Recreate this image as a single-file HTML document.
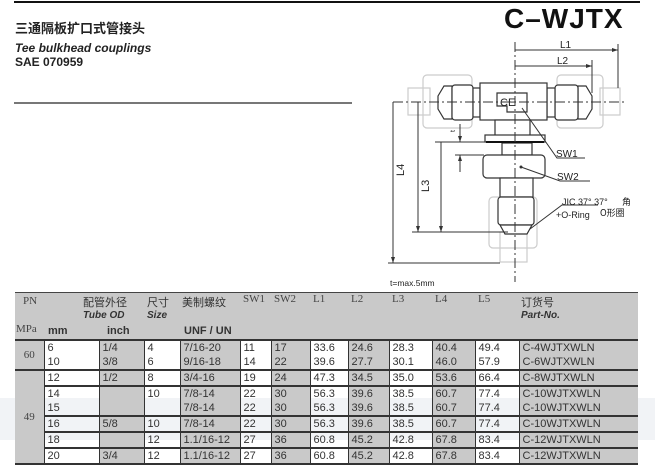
<!DOCTYPE html>
<html><head><meta charset="utf-8">
<style>
body{margin:0;width:655px;height:473px;background:#fff;position:relative;overflow:hidden;font-family:"Liberation Sans","Noto Sans CJK SC",sans-serif;color:#222}
.a{position:absolute;white-space:nowrap}
.hd .a{z-index:5}
table{position:absolute;left:15px;top:293px;width:623px;border-collapse:collapse;table-layout:fixed;font-size:11px}
td{padding:0 0 0 3px;white-space:nowrap;color:#333}
.g{background:#c9c9c9}
.hd td{background:#c9c9c9;border:none;vertical-align:top;overflow:visible}
.d td{border-left:1.5px solid #333;height:14px;line-height:14px;overflow:hidden;padding-top:0;padding-bottom:0}
.t td{border-top:2px solid #333}
.s{font-family:"Liberation Serif","Noto Serif CJK SC",serif;font-size:11px;color:#444}
.b{font-weight:bold;font-size:11px}
.i{font-weight:bold;font-style:italic;font-size:10px}
</style></head><body>
<div class="a" style="left:14px;top:1px;width:626px;height:2px;background:#111"></div>
<div class="a" style="left:15px;top:18px;font-size:13px;font-weight:bold">三通隔板扩口式管接头</div>
<div class="a" style="left:15px;top:41px;font-size:12px;font-weight:bold;font-style:italic">Tee bulkhead couplings</div>
<div class="a" style="left:15px;top:55px;font-size:12px;font-weight:bold">SAE 070959</div>
<div class="a" style="left:14px;top:102px;width:338px;height:2px;background:#777"></div>
<div class="a" style="left:504px;top:3px;font-size:28px;font-weight:bold;letter-spacing:1px;color:#111">C–WJTX</div>

<svg class="a" style="left:0;top:0" width="655" height="292" viewBox="0 0 655 292">
<g fill="none" stroke="#ccc" stroke-width="1.2">
<rect x="423" y="75" width="49" height="53" rx="4"/><rect x="408" y="88" width="22" height="27"/>
<rect x="557" y="75" width="46" height="53" rx="4"/><rect x="600" y="88" width="20" height="27"/>
<rect x="489" y="197" width="48" height="51" rx="4"/><rect x="500" y="232" width="27" height="30"/>
</g>
<g fill="#fff" stroke="#333" stroke-width="1.2">
<path d="M438 96 L444 86 L452 86 L452 119 L444 119 L438 109 Z"/>
<rect x="452" y="85" width="21" height="35" rx="3"/><rect x="473" y="88" width="7" height="29"/>
<path d="M592 96 L586 86 L578 86 L578 119 L586 119 L592 109 Z"/>
<rect x="555" y="85" width="23" height="35" rx="3"/><rect x="547" y="88" width="8" height="29"/>
<rect x="480" y="83" width="67" height="37"/>
<rect x="495" y="120" width="35" height="16"/>
<rect x="485" y="135" width="60" height="7"/>
<rect x="502" y="143" width="30" height="12"/>
<rect x="483" y="155" width="62" height="23" rx="4"/>
<rect x="500" y="178" width="33" height="19"/>
<rect x="498" y="197" width="36" height="28" rx="3"/>
<path d="M500 225 L532 225 L527 234 L505 234 Z"/>
<path d="M497 93 L527 93 L527 112 L507 112 L507 106 L497 106 Z"/>
</g>
<line x1="486" y1="142" x2="544" y2="142" stroke="#111" stroke-width="2"/>
<text x="500" y="106" font-size="11" fill="#222" font-family="Liberation Sans">CE</text>
<g stroke="#333" stroke-width="1" fill="none">
<line x1="515" y1="42" x2="515" y2="282" stroke-dasharray="10,3,2,3"/>
<line x1="393" y1="102" x2="625" y2="102" stroke-dasharray="10,3,2,3"/>
<line x1="515" y1="50" x2="618" y2="50"/><line x1="618" y1="44" x2="618" y2="88"/>
<line x1="515" y1="66" x2="592" y2="66"/><line x1="592" y1="60" x2="592" y2="93"/>
<line x1="393" y1="102" x2="393" y2="263"/><line x1="388" y1="263" x2="500" y2="263"/>
<line x1="418" y1="102" x2="418" y2="232"/><line x1="412" y1="232" x2="508" y2="232"/>
<line x1="441" y1="142" x2="441" y2="232"/><line x1="435" y1="142" x2="486" y2="142"/>
<line x1="460" y1="124" x2="460" y2="142"/><line x1="460" y1="155" x2="460" y2="172"/><line x1="455" y1="155" x2="484" y2="155"/>
<polyline points="522,108 557,158 585,158"/>
<polyline points="521,167 560,181 590,181"/>
<polyline points="530,229 562,205 598,205"/>
</g>
<g fill="#333">
<path d="M612 48 L618 50 L612 52Z"/><path d="M586 64 L592 66 L586 68Z"/>
<path d="M391 257 L393 263 L395 257Z"/><path d="M416 226 L418 232 L420 226Z"/><path d="M439 226 L441 232 L443 226Z"/>
<path d="M458 136 L460 142 L462 136Z"/><path d="M458 161 L460 155 L462 161Z"/>
<circle cx="521" cy="167" r="1.5"/>
</g>
<g font-family="Liberation Sans" font-size="10" fill="#222">
<text x="560" y="48">L1</text><text x="557" y="64">L2</text>
<text x="556" y="157">SW1</text><text x="557" y="180">SW2</text>
<text x="562" y="205" font-size="9">JIC 37° 37°</text><text x="622" y="205" font-size="9" font-family="Noto Sans CJK SC">角</text>
<text x="556" y="218" font-size="9">+O-Ring</text><text x="600" y="216" font-size="9" font-family="Noto Sans CJK SC">O形圈</text>
<text x="390" y="286" font-size="8.5">t=max.5mm</text>
<text transform="translate(404,176) rotate(-90)" font-size="11">L4</text>
<text transform="translate(429,192) rotate(-90)" font-size="11">L3</text>
<text transform="translate(455,132) rotate(-90)" font-size="7">t</text>
</g>
</svg>

<div class="a" style="left:0;top:398px;width:655px;height:42px;background:#f1f3f6"></div>
<div class="a" style="left:15px;top:292px;width:623px;height:2px;background:#444"></div>
<table>
<colgroup><col style="width:29px"><col style="width:55px"><col style="width:45px"><col style="width:36px"><col style="width:60px"><col style="width:31px"><col style="width:39px"><col style="width:38px"><col style="width:41px"><col style="width:43px"><col style="width:43px"><col style="width:44px"><col style="width:119px"></colgroup>
<tr class="hd" style="height:47px">
<td colspan="2" style="position:relative"><span class="a s" style="left:8px;top:2px">PN</span><span class="a s" style="left:1px;top:30px">MPa</span><span class="a b" style="left:33px;top:32px">mm</span><span class="a" style="left:68px;top:1px;font-size:11px">配管外径</span><span class="a i" style="left:68px;top:17px">Tube OD</span></td>
<td colspan="2" style="position:relative"><span class="a b" style="left:8px;top:32px">inch</span><span class="a" style="left:48px;top:1px;font-size:11px">尺寸</span><span class="a i" style="left:48px;top:17px">Size</span></td>
<td style="position:relative"><span class="a" style="left:2px;top:1px;font-size:11px">美制螺纹</span><span class="a b" style="left:4px;top:32px">UNF / UN</span></td>
<td><span class="s">SW1</span></td><td><span class="s">SW2</span></td><td><span class="s">L1</span></td><td><span class="s">L2</span></td><td><span class="s">L3</span></td><td><span class="s">L4</span></td><td><span class="s">L5</span></td>
<td style="position:relative"><span class="a" style="left:2px;top:1px;font-size:11px">订货号</span><span class="a i" style="left:2px;top:17px">Part-No.</span></td></tr>
<tr class="d t"><td class="g s" rowspan="2" style="border-left:none;text-align:center;padding:0">60</td><td>6</td><td class="g">1/4</td><td>4</td><td class="g">7/16-20</td><td>11</td><td class="g">17</td><td>33.6</td><td class="g">24.6</td><td>28.3</td><td class="g">40.4</td><td>49.4</td><td class="g">C-4WJTXWLN</td></tr>
<tr class="d"><td>10</td><td class="g">3/8</td><td>6</td><td class="g">9/16-18</td><td>14</td><td class="g">22</td><td>39.6</td><td class="g">27.7</td><td>30.1</td><td class="g">46.0</td><td>57.9</td><td class="g">C-6WJTXWLN</td></tr>
<tr class="d t"><td class="g s" rowspan="6" style="border-left:none;text-align:center;padding:0">49</td><td>12</td><td class="g">1/2</td><td>8</td><td class="g">3/4-16</td><td>19</td><td class="g">24</td><td>47.3</td><td class="g">34.5</td><td>35.0</td><td class="g">53.6</td><td>66.4</td><td class="g">C-8WJTXWLN</td></tr>
<tr class="d t"><td>14</td><td class="g"></td><td>10</td><td class="g">7/8-14</td><td>22</td><td class="g">30</td><td>56.3</td><td class="g">39.6</td><td>38.5</td><td class="g">60.7</td><td>77.4</td><td class="g">C-10WJTXWLN</td></tr>
<tr class="d"><td>15</td><td class="g"></td><td></td><td class="g">7/8-14</td><td>22</td><td class="g">30</td><td>56.3</td><td class="g">39.6</td><td>38.5</td><td class="g">60.7</td><td>77.4</td><td class="g">C-10WJTXWLN</td></tr>
<tr class="d t"><td>16</td><td class="g">5/8</td><td>10</td><td class="g">7/8-14</td><td>22</td><td class="g">30</td><td>56.3</td><td class="g">39.6</td><td>38.5</td><td class="g">60.7</td><td>77.4</td><td class="g">C-10WJTXWLN</td></tr>
<tr class="d t"><td>18</td><td class="g"></td><td>12</td><td class="g">1.1/16-12</td><td>27</td><td class="g">36</td><td>60.8</td><td class="g">45.2</td><td>42.8</td><td class="g">67.8</td><td>83.4</td><td class="g">C-12WJTXWLN</td></tr>
<tr class="d t" style="border-bottom:2px solid #333"><td>20</td><td class="g">3/4</td><td>12</td><td class="g">1.1/16-12</td><td>27</td><td class="g">36</td><td>60.8</td><td class="g">45.2</td><td>42.8</td><td class="g">67.8</td><td>83.4</td><td class="g">C-12WJTXWLN</td></tr>
</table>
</body></html>
